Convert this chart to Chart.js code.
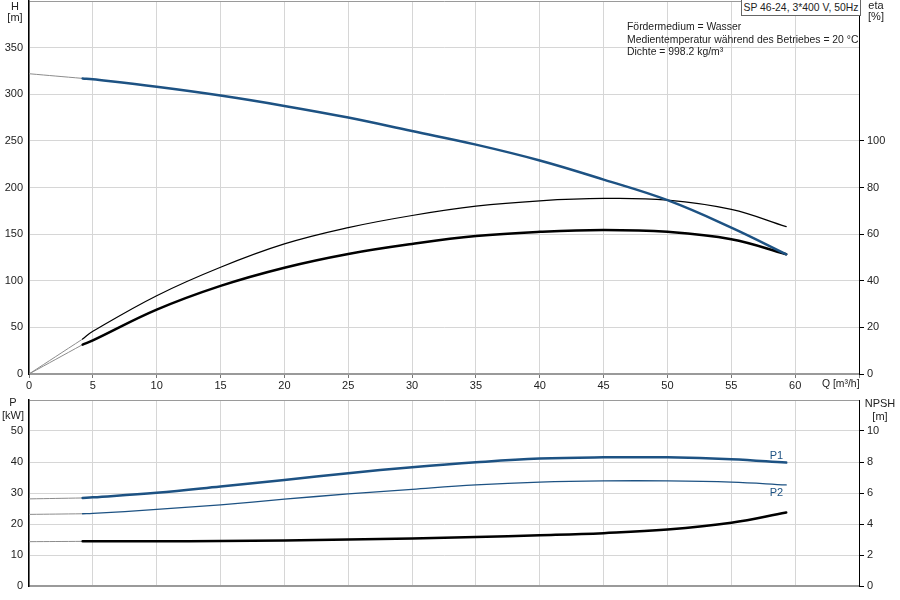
<!DOCTYPE html>
<html>
<head>
<meta charset="utf-8">
<script src="https://cdn.jsdelivr.net/npm/chart.js@4.4.1/dist/chart.umd.min.js"></script>
<style>
  html, body { margin:0; padding:0; background:#fff; }
  #wrap { position:relative; width:900px; height:600px; overflow:hidden; font-family:"Liberation Sans", Arial, sans-serif; font-size:11px; color:#222; }
  canvas { position:absolute; left:0; }
  #topChart { top:0; }
  #bottomChart { top:395px; }
  .lbl { position:absolute; white-space:nowrap; line-height:12px; }
  .s { font-size:10.4px; }
  .c { text-align:center; }
  #info { left:741px; top:-1px; width:118px; height:15px; border:1px solid #666; line-height:15px; text-align:center; background:#fff; }
</style>
</head>
<body>
<div id="wrap">
  <canvas id="topChart" width="900" height="395"></canvas>
  <canvas id="bottomChart" width="900" height="205"></canvas>

  <div class="lbl c" style="left:5px;top:0;width:20px">H</div>
  <div class="lbl c" style="left:3px;top:11px;width:24px">[m]</div>
  <div class="lbl c" style="left:864px;top:-1px;width:24px">eta</div>
  <div class="lbl c" style="left:864px;top:10px;width:24px">[%]</div>
  <div class="lbl s" style="left:822px;top:378px">Q [m³/h]</div>
  <div class="lbl c" style="left:3px;top:396px;width:20px">P</div>
  <div class="lbl c" style="left:0;top:409px;width:26px">[kW]</div>
  <div class="lbl c" style="left:862px;top:397px;width:36px">NPSH</div>
  <div class="lbl c" style="left:868px;top:410px;width:24px">[m]</div>

  <div class="lbl s" id="info">SP 46-24, 3*400 V, 50Hz</div>
  <div class="lbl s" style="left:627px;top:21px">Fördermedium = Wasser</div>
  <div class="lbl s" style="left:627px;top:34px">Medientemperatur während des Betriebes = 20 °C</div>
  <div class="lbl s" style="left:627px;top:46px">Dichte = 998.2 kg/m³</div>
</div>
<script>
// flow points (m³/h) where the operating curves are drawn
const flowQ = [4.2, 5, 10, 15, 20, 25, 30, 35, 40, 45, 50, 55, 59.3];
// head H [m]
const headH = [317, 316, 308, 298.6, 287.5, 275, 260.5, 246, 229, 208.5, 186.4, 157, 128.4];
// efficiencies [%]
const etaPump  = [15, 18.3, 33.6, 45.8, 55.8, 62.8, 68, 72, 74.3, 75.3, 74.6, 70.6, 63.2];
const etaTotal = [12.6, 14.4, 27.6, 37.8, 45.6, 51.5, 55.8, 59.2, 61, 61.8, 61, 57.8, 51.4];
// power [kW]
const powerP1 = [28.4, 28.6, 30.1, 32.1, 34.2, 36.4, 38.3, 39.9, 41.1, 41.5, 41.5, 40.9, 39.8];
const powerP2 = [23.3, 23.4, 24.7, 26.2, 28.0, 29.7, 31.2, 32.6, 33.5, 33.9, 33.9, 33.5, 32.6];
// NPSH [m]
const npsh = [2.88, 2.88, 2.89, 2.9, 2.94, 3.0, 3.07, 3.16, 3.27, 3.41, 3.64, 4.08, 4.74];
// values at Q = 0 (start of the grey extension)
const startH = 322, startEtaPump = 0, startEtaTotal = 0, startP1 = 28.1, startP2 = 23.1, startNpsh = 2.86;

const qTicksMax = 65;
const BLUE = '#1d5283', EXT = '#8c8c8c', GRID = '#d6d6d6', FRAME = '#9a9a9a';
const tickFont = { family: '"Liberation Sans", Arial, sans-serif', size: 11 };

const pts = ys => flowQ.map((q, i) => ({ x: q, y: ys[i] }));
const ext = (y0, ys) => [{ x: 0, y: y0 }, { x: flowQ[0], y: ys[0] }];

function line(data, color, width, axis) {
  return { data, borderColor: color, borderWidth: width, yAxisID: axis, pointRadius: 0, fill: false, tension: 0.4 };
}

function fixW(w) { return s => { s.width = w; s.paddingTop = 0; s.paddingBottom = 0; }; }
function fixH(h) { return s => { s.height = h; s.paddingLeft = 0; s.paddingRight = 0; }; }

function xScale(showLabels, h) {
  return {
    type: 'linear', min: 0, max: qTicksMax,
    ticks: { stepSize: 5, autoSkip: false, maxRotation: 0, display: showLabels, font: tickFont, color: '#222', padding: 1,
      callback: v => v >= qTicksMax ? '' : v },
    grid: { color: GRID, drawTicks: showLabels, tickLength: 4, tickColor: '#777' },
    border: { color: FRAME, width: 2 },
    afterFit: fixH(h)
  };
}
function leftScale(max, step) {
  return {
    position: 'left', min: 0, max,
    ticks: { stepSize: step, autoSkip: false, font: tickFont, color: '#222', padding: 6,
      callback: v => v >= max ? '' : v },
    grid: { drawTicks: false, color: c => c.tick && c.tick.value >= max ? FRAME : GRID },
    border: { color: '#000', width: 1.5 },
    afterFit: fixW(29)
  };
}
function rightScale(max, step, lastLabel) {
  return {
    position: 'right', min: 0, max,
    ticks: { stepSize: step, autoSkip: false, font: tickFont, color: '#222', padding: 3,
      callback: v => v > lastLabel ? '' : v },
    grid: { drawOnChartArea: false, tickLength: 5, tickColor: c => c.tick && c.tick.value > lastLabel ? 'rgba(0,0,0,0)' : '#000' },
    border: { color: '#000', width: 1 },
    afterFit: fixW(41)
  };
}

const curveLabels = {
  id: 'curveLabels',
  afterDatasetsDraw(chart, args, opts) {
    if (!opts.items) return;
    const ctx = chart.ctx;
    ctx.save();
    ctx.font = '11px "Liberation Sans", Arial, sans-serif';
    ctx.fillStyle = BLUE;
    ctx.textAlign = 'right';
    ctx.textBaseline = 'middle';
    opts.items.forEach(it => {
      const el = chart.getDatasetMeta(it.dataset).data.at(-1);
      ctx.fillText(it.text, el.x - 3, el.y + it.dy);
    });
    ctx.restore();
  }
};

const common = {
  responsive: false, animation: false,
  plugins: { legend: { display: false }, tooltip: { enabled: false } },
  elements: { line: { borderCapStyle: 'round' } }
};

new Chart(document.getElementById('topChart'), {
  type: 'line',
  data: { datasets: [
    line(pts(headH), BLUE, 2.5, 'y'),
    line(ext(startH, headH), EXT, 1, 'y'),
    line(pts(etaPump), '#000', 1.2, 'eta'),
    line(ext(startEtaPump, etaPump), EXT, 1, 'eta'),
    line(pts(etaTotal), '#000', 2.5, 'eta'),
    line(ext(startEtaTotal, etaTotal), EXT, 1, 'eta')
  ] },
  options: Object.assign({}, common, {
    layout: { padding: { top: 1, left: 0, right: 0, bottom: 0 } },
    scales: { x: xScale(true, 21), y: leftScale(400, 50), eta: rightScale(160, 20, 100) }
  })
});

new Chart(document.getElementById('bottomChart'), {
  type: 'line',
  data: { datasets: [
    line(pts(powerP1), BLUE, 2.5, 'y'),
    line(ext(startP1, powerP1), EXT, 1, 'y'),
    line(pts(powerP2), BLUE, 1.3, 'y'),
    line(ext(startP2, powerP2), EXT, 1, 'y'),
    line(pts(npsh), '#000', 2.5, 'npsh'),
    line(ext(startNpsh, npsh), EXT, 1, 'npsh')
  ] },
  options: Object.assign({}, common, {
    layout: { padding: { top: 5, left: 0, right: 0, bottom: 0 } },
    plugins: Object.assign({}, common.plugins, {
      curveLabels: { items: [ { dataset: 0, text: 'P1', dy: -7 }, { dataset: 2, text: 'P2', dy: 8 } ] }
    }),
    scales: { x: xScale(false, 14), y: leftScale(60, 10), npsh: rightScale(12, 2, 10) }
  }),
  plugins: [curveLabels]
});
</script>
</body>
</html>
